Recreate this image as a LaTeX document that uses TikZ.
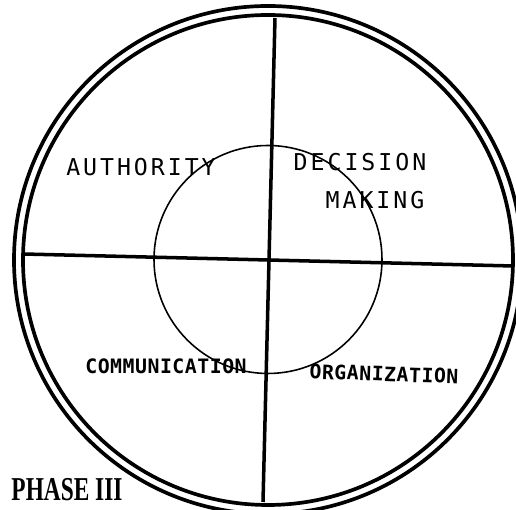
\documentclass[tikz,border=0pt]{standalone}
\usepackage{fontspec}
\usepackage{tikz}
\usetikzlibrary{positioning}
\newfontfamily\leroy[LetterSpace=12.8]{DejaVu Sans Mono}
\newfontfamily\leroysmall[LetterSpace=2.5]{DejaVu Sans Mono Bold}
\newfontfamily\phasefont{Liberation Serif Bold}

\begin{document}
\begin{tikzpicture}[
  ring/.style={line width=2.1pt},
  axis/.style={line width=2pt},
  core/.style={line width=0.9pt},
  biglabel/.style={font=\leroy\fontsize{13.2}{14}\selectfont, inner sep=0pt},
  smalllabel/.style={font=\leroysmall\fontsize{11.3}{12}\selectfont, inner sep=0pt}
]
\useasboundingbox (0,0) rectangle (10.32,10.2);
% Centre of the double ring and of the inner circle.
\coordinate (c) at (5.36,5.00);
\coordinate (ci) at (5.36,5.01);
\draw[ring] (c) circle (5.08);
\draw[ring] (c) circle (4.90);
\draw[core] (ci) circle (2.28);

% The two crossing lines.
\coordinate (west) at (0.46,5.12);
\coordinate (east) at (10.26,4.88);
\coordinate (north) at (5.50,9.84);
\coordinate (south) at (5.26,0.16);
\draw[axis] (west) -- (east);
\draw[axis] (north) -- (south);

% Quadrant labels.
\node[biglabel] (auth) at (2.82,6.86) {AUTHORITY};
\node[biglabel] (dec) at (7.20,6.96) {DECISION};
\node[biglabel] (mak) at (7.50,6.20) {MAKING};
\node[smalllabel] (comm) at (3.32,2.88) {COMMUNICATION};
\node[smalllabel, rotate=-2] (org) at (7.68,2.72) {ORGANIZATION};

\node[font=\phasefont\fontsize{19}{20}\selectfont, xscale=0.7, inner sep=0pt]
  (phase) at (1.34,0.40) {PHASE III};
\end{tikzpicture}
\end{document}
